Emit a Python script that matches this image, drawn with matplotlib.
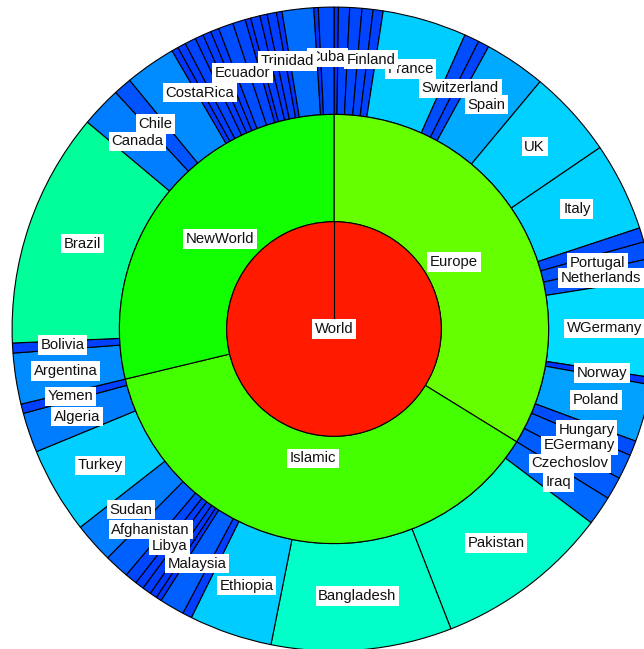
import numpy as np
import matplotlib
matplotlib.use("Agg")
import matplotlib.pyplot as plt
from matplotlib import colors as mcolors

# ---------------- data ----------------
root_name = "World"
group_names = ["Europe", "Islamic", "NewWorld"]

europe_names = ["", "", "", "", "Finland", "France", "", "Switzerland", "Spain", "UK",
                "Italy", "", "Portugal", "Netherlands", "WGermany", "Norway", "Poland",
                "Hungary", "EGermany", "Czechoslov"]
europe_values = [0.8, 2.0, 2.2, 2.0, 1.8, 15.2, 2.7, 2.0, 11.1, 15.9,
                 16.0, 2.6, 3.1, 3.6, 17.7, 1.3, 10.4,
                 2.7, 4.5, 4.1]

islamic_names = ["Iraq", "Pakistan", "Bangladesh", "Ethiopia", "", "Malaysia", "", "", "",
                 "Libya", "", "Afghanistan", "Sudan", "Turkey", "Algeria", "Yemen"]
islamic_values = [5.3, 31.7, 32.6, 15.0, 1.7, 4.5, 1.0, 1.3, 1.6,
                  1.6, 2.2, 4.5, 7.3, 15.6, 7.2, 1.7]

newworld_names = ["Argentina", "Bolivia", "Brazil", "Canada", "Chile", "", "CostaRica",
                  "", "", "", "", "", "Ecuador", "", "", "", "", "", "Trinidad", "", "", "Cuba"]
newworld_values = [9.2, 1.8, 42.5, 7.3, 3.3, 9.2, 1.2,
                   1.5, 2.0, 1.5, 1.5, 1.5, 2.7, 2.3, 1.0, 1.7, 1.3, 1.7, 1.0, 5.7, 0.8, 2.8]

# ---------------- style ----------------
root_color = "#ff1a00"
group_colors = ["#66ff00", "#44ff00", "#11ff00"]
# colour of a leaf as a function of its size
leaf_anchor_sizes = [0, 1, 2, 3.5, 5, 7.5, 9.2, 11, 15, 18, 32, 43]
leaf_anchor_colors = ["#0022ff", "#0033ff", "#0044ff", "#0055ff", "#0066ff", "#0080ff",
                      "#008cff", "#00aaff", "#00ccff", "#00ddff", "#00ffcc", "#00ff99"]

plt.rcParams["font.family"] = ["Liberation Sans", "DejaVu Sans"]
FS = 10.7

W, H = 644, 649
cx, cy = 334, H - 329
ring = 107.3

fig = plt.figure(figsize=(W / 100, H / 100), dpi=100)
ax = fig.add_axes([0, 0, 1, 1])

children = [europe_values, islamic_values, newworld_values]
child_names = [europe_names, islamic_names, newworld_names]
group_values = [sum(c) for c in children]
leaf_values = [v for c in children for v in c]
leaf_names = [n for c in child_names for n in c]

anchor_rgb = np.array([mcolors.to_rgb(c) for c in leaf_anchor_colors])
total = sum(leaf_values)


def leaf_color(v):
    deg = 360.0 * v / total
    return tuple(np.interp(deg, leaf_anchor_sizes, anchor_rgb[:, k]) for k in range(3))


leaf_colors = [leaf_color(v) for v in leaf_values]

edge = dict(edgecolor="black", linewidth=0.8)

outer, _ = ax.pie(leaf_values, radius=3 * ring, center=(cx, cy), startangle=90,
                  counterclock=False, colors=leaf_colors,
                  wedgeprops=dict(width=ring, **edge))
middle, _ = ax.pie(group_values, radius=2 * ring, center=(cx, cy), startangle=90,
                   counterclock=False, colors=group_colors,
                   wedgeprops=dict(width=ring, **edge))
inner, _ = ax.pie([total], radius=ring, center=(cx, cy), startangle=90,
                  counterclock=False, colors=[root_color], wedgeprops=dict(**edge))
# radial edge of the root wedge at its start angle
a0 = np.deg2rad(90)
ax.plot([cx, cx + ring * np.cos(a0)], [cy, cy + ring * np.sin(a0)],
        color="black", lw=0.8, zorder=3)

box = dict(boxstyle="square,pad=0.18", facecolor="white", edgecolor="none")


def centroid(w):
    t1, t2 = np.deg2rad(w.theta1), np.deg2rad(w.theta2)
    r_out = w.r
    r_in = w.r - (w.width if w.width is not None else w.r)
    half = (t2 - t1) / 2
    mid = (t1 + t2) / 2
    rc = (2.0 / 3.0) * (r_out ** 3 - r_in ** 3) / (r_out ** 2 - r_in ** 2)
    if half > 1e-9:
        rc *= np.sin(half) / half
    cxw, cyw = w.center
    return cxw + rc * np.cos(mid), cyw + rc * np.sin(mid)


for w, name in reversed(list(zip(outer, leaf_names))):
    if name:
        x, y = centroid(w)
        ax.text(x, y, name, ha="center", va="center", fontsize=FS, color="#111111",
                bbox=box, zorder=5)

for w, name in zip(middle, group_names):
    x, y = centroid(w)
    ax.text(x, y, name, ha="center", va="center", fontsize=FS, color="#111111",
            bbox=box, zorder=5)

ax.text(cx, cy, root_name, ha="center", va="center", fontsize=FS, color="#111111",
        bbox=box, zorder=5)

ax.set_xlim(0, W)
ax.set_ylim(0, H)
ax.set_aspect("equal")
ax.axis("off")

fig.savefig("out.png", dpi=100, facecolor="white")
